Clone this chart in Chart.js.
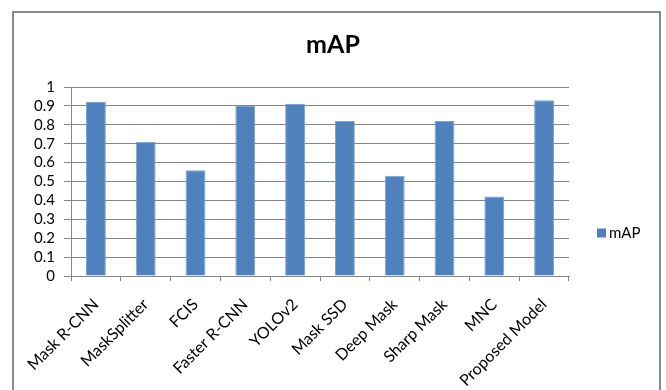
<!DOCTYPE html>
<html>
<head>
<meta charset="utf-8">
<script src="https://cdn.jsdelivr.net/npm/chart.js@4/dist/chart.umd.min.js"></script>
<style>
  html, body { margin: 0; padding: 0; background: #fff; overflow: hidden; }
  #wrap { position: relative; width: 666px; height: 390px; }
  #frame { position: absolute; left: 12px; top: 11px; width: 649px; height: 420px;
           border: 2px solid #8a8a8a; box-sizing: border-box; }
  canvas { position: absolute; left: 0; top: 0; }
</style>
</head>
<body>
<div id="wrap">
  <div id="frame"></div>
  <canvas id="chart" width="666" height="390"></canvas>
</div>
<script>
// Methods compared
const categories = [
  'Mask R-CNN', 'MaskSplitter', 'FCIS', 'Faster R-CNN', 'YOLOv2',
  'Mask SSD', 'Deep Mask', 'Sharp Mask', 'MNC', 'Proposed Model'
];
// mean average precision per method
const mapValues = [0.92, 0.71, 0.56, 0.90, 0.91, 0.82, 0.53, 0.82, 0.42, 0.93];
const seriesName = 'mAP';
const yTickLabels = ['0', '0.1', '0.2', '0.3', '0.4', '0.5', '0.6', '0.7', '0.8', '0.9', '1'];

const barColor = '#4F81BD';
const gridColor = '#878787';
const fontFamily = 'Lato, "Liberation Sans", sans-serif';

// Legend to the right of the plot, drawn as a small key square plus label
const sideLegend = {
  id: 'sideLegend',
  afterDraw(chart) {
    const ctx = chart.ctx;
    const area = chart.chartArea;
    const x = area.right + 28;
    const y = 233;
    ctx.save();
    ctx.fillStyle = barColor;
    ctx.fillRect(x, y - 4.5, 9, 9);
    ctx.fillStyle = '#000';
    ctx.font = '15px ' + fontFamily;
    ctx.textBaseline = 'middle';
    ctx.textAlign = 'left';
    ctx.fillText(seriesName, x + 12, y + 0.5);
    ctx.restore();
  }
};

new Chart(document.getElementById('chart'), {
  type: 'bar',
  data: {
    labels: categories,
    datasets: [{
      label: seriesName,
      data: mapValues,
      backgroundColor: barColor,
      borderColor: '#7DA2CF',
      borderWidth: { top: 1, left: 1, right: 1, bottom: 0 },
      barPercentage: 0.4,
      categoryPercentage: 1.0
    }]
  },
  plugins: [sideLegend],
  options: {
    responsive: false,
    animation: false,
    layout: { padding: 0 },
    plugins: {
      legend: { display: false },
      tooltip: { enabled: false },
      title: {
        display: true,
        text: seriesName,
        color: '#000',
        font: { family: fontFamily, size: 25, weight: 'bold' },
        padding: { top: 30, bottom: 27 }
      }
    },
    scales: {
      x: {
        grid: {
          offset: true,
          drawOnChartArea: false,
          drawTicks: true,
          tickLength: 5,
          color: gridColor
        },
        border: { display: true, color: gridColor, width: 1 },
        ticks: {
          color: '#000',
          font: { family: fontFamily, size: 16 },
          maxRotation: 45,
          minRotation: 45,
          autoSkip: false,
          padding: 14
        },
        afterFit(scale) { scale.height = 114; }
      },
      y: {
        min: 0,
        max: 1,
        grid: {
          color: gridColor,
          drawTicks: true,
          tickLength: 7
        },
        border: { display: true, color: gridColor, width: 1 },
        ticks: {
          stepSize: 0.1,
          autoSkip: false,
          color: '#000',
          font: { family: fontFamily, size: 15 },
          padding: 9,
          callback: (v, i) => yTickLabels[i]
        },
        afterFit(scale) { scale.width = 71; }
      },
      // empty right-hand band that holds the legend area
      side: {
        position: 'right',
        display: true,
        grid: { drawOnChartArea: false, drawTicks: false },
        border: { display: false },
        ticks: { display: false },
        afterFit(scale) { scale.width = 97; }
      }
    }
  }
});
</script>
</body>
</html>
